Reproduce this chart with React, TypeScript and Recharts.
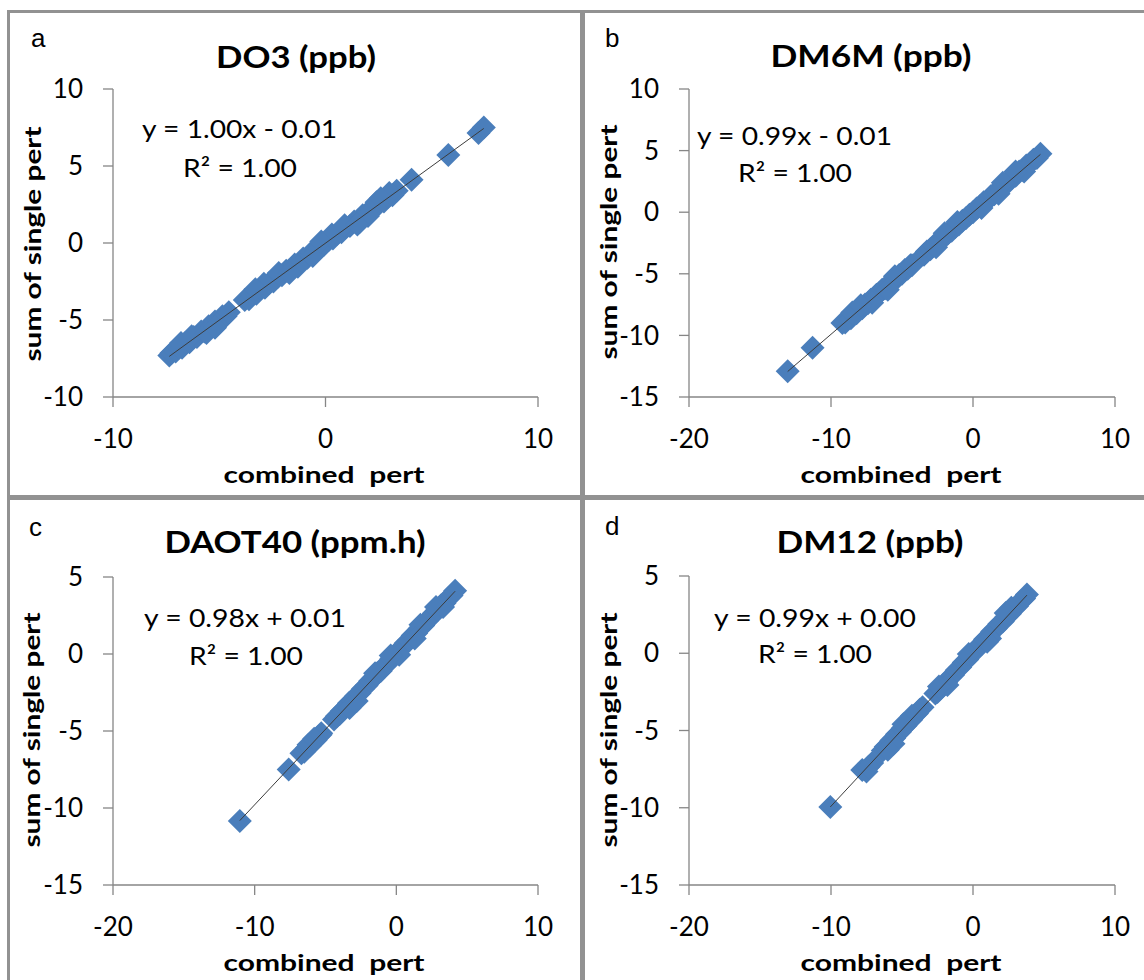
import React from 'react';
import { ScatterChart, Scatter, XAxis, YAxis } from 'recharts';

// panel texts
const LETTERS = ['a', 'b', 'c', 'd'];
const TITLES = ['DO3 (ppb)', 'DM6M (ppb)', 'DAOT40 (ppm.h)', 'DM12 (ppb)'];
const EQUATIONS = ['y = 1.00x - 0.01', 'y = 0.99x - 0.01', 'y = 0.98x + 0.01', 'y = 0.99x + 0.00'];
const R2_LABELS = ['R² = 1.00', 'R² = 1.00', 'R² = 1.00', 'R² = 1.00'];
const SLOPES = [1.0, 0.99, 0.98, 0.99];
const INTERCEPTS = [-0.01, -0.01, 0.01, 0.0];
const X_LABEL = 'combined  pert';
const Y_LABEL = 'sum of single pert';

// axes
const X_TICKS_A = [-10, 0, 10];
const X_TICKS_BCD = [-20, -10, 0, 10];
const Y_TICKS_A = [-10, -5, 0, 5, 10];
const Y_TICKS_B = [-15, -10, -5, 0, 5, 10];
const Y_TICKS_CD = [-15, -10, -5, 0, 5];

// a: DO3
const A_X = [-7.35, -7.25, -7.05, -6.9, -6.75, -6.6, -6.4, -6.2, -6.05, -5.85, -5.7, -5.5, -5.35, -5.2, -5.0, -4.85, -4.7, -4.55,
  -3.8, -3.6, -3.45, -3.25, -3.05, -2.85, -2.65, -2.45, -2.25, -2.05, -1.85, -1.65, -1.45, -1.25, -1.05, -0.85, -0.65, -0.45, -0.25, -0.05,
  0.15, 0.35, 0.55, 0.75, 0.95, 1.15, 1.35, 1.55, 1.75, 1.95, 2.15, 2.35, 2.55, 2.75, 2.95, 3.15, 3.35,
  -2.9, -1.3, 0.3, 1.6, 2.4, -6.3, -5.6, -2.2, -0.6, 0.9, 2.0, 3.0,
  -6.8, -5.2, -3.3, -1.7, -0.2, 1.5, 2.6,
  4.05, 5.78, 7.2, 7.45];
const A_Y = [-7.3, -7.15, -7.05, -6.8, -6.8, -6.5, -6.45, -6.1, -6.1, -5.75, -5.75, -5.4, -5.4, -5.1, -5.05, -4.75, -4.75, -4.5,
  -3.7, -3.65, -3.35, -3.3, -2.95, -2.9, -2.6, -2.5, -2.2, -2.1, -1.8, -1.75, -1.4, -1.35, -1.0, -0.95, -0.6, -0.55, -0.2, -0.1,
  0.2, 0.3, 0.6, 0.7, 1.0, 1.1, 1.4, 1.5, 1.8, 1.9, 2.2, 2.3, 2.6, 2.7, 3.0, 3.1, 3.4,
  -2.65, -1.55, 0.55, 1.35, 2.65, -6.05, -5.85, -1.95, -0.85, 1.15, 1.75, 3.25,
  -6.5, -5.5, -3.0, -1.95, 0.1, 1.2, 2.9,
  4.1, 5.72, 7.15, 7.5];

// b: DM6M
const B_X = [-13.05, -11.3,
  -9.2, -9.0, -8.8, -8.6, -8.4, -8.2, -8.0, -7.8, -7.6, -7.4, -7.2, -7.0, -6.8,
  -6.6, -6.4, -6.2, -6.0, -5.8, -5.6, -5.4, -5.2, -5.0, -4.8, -4.6, -4.4, -4.3,
  -3.45, -3.25, -3.0, -2.75, -2.5, -2.25, -2.0, -1.75, -1.5, -1.25, -1.0, -0.75, -0.5, -0.25, 0.0, 0.25, 0.5,
  0.75, 1.0, 1.25, 1.5, 1.75, 2.0, 2.25, 2.5, 2.75, 3.0, 3.25, 3.5, 3.75, 4.0, 4.25, 4.5, 4.75,
  -8.5, -7.1, -5.5, -2.6, -1.1, 0.6, 2.1, 3.6,
  -7.9, -6.0, -2.0, 1.8, 3.0];
const B_Y = [-12.9, -11.0,
  -9.0, -8.95, -8.65, -8.6, -8.3, -8.2, -7.85, -7.8, -7.5, -7.4, -7.1, -7.0, -6.7,
  -6.55, -6.3, -6.2, -5.9, -5.8, -5.5, -5.4, -5.1, -5.0, -4.7, -4.6, -4.3, -4.3,
  -3.45, -3.2, -3.0, -2.7, -2.5, -2.2, -2.0, -1.7, -1.5, -1.2, -1.0, -0.7, -0.5, -0.2, 0.0, 0.3, 0.5,
  0.8, 0.95, 1.3, 1.45, 1.8, 1.95, 2.3, 2.45, 2.8, 2.95, 3.3, 3.45, 3.8, 3.95, 4.25, 4.4, 4.75,
  -8.15, -7.35, -5.2, -2.85, -0.8, 0.35, 2.4, 3.3,
  -7.55, -6.3, -1.7, 1.5, 3.3];

// c: DAOT40
const C_X = [-11.05, -7.6,
  -6.7, -6.5, -6.3, -6.1, -5.9, -5.7, -5.5, -5.35, -5.3,
  -4.4, -4.2, -4.0, -3.85, -3.6, -3.35, -3.1, -2.85, -2.6, -2.35, -2.1, -1.85, -1.6, -1.35, -1.1, -0.85, -0.6, -0.35,
  -0.1, 0.15, 0.4, 0.65, 0.9, 1.15, 1.4, 1.65, 1.9, 2.15, 2.4, 2.65, 2.9, 3.15, 3.4, 3.65, 3.9, 4.15,
  -6.2, -3.3, -1.5, 0.2, 1.7, 3.3,
  -5.8, -2.8, -0.4, 1.3, 2.8];
const C_Y = [-10.85, -7.5,
  -6.45, -6.35, -6.1, -5.95, -5.75, -5.6, -5.35, -5.25, -5.15,
  -4.25, -4.05, -3.9, -3.7, -3.5, -3.2, -3.05, -2.75, -2.55, -2.25, -2.05, -1.75, -1.55, -1.25, -1.1, -0.8, -0.6, -0.3,
  -0.1, 0.2, 0.4, 0.7, 0.9, 1.2, 1.35, 1.65, 1.85, 2.15, 2.35, 2.65, 2.85, 3.15, 3.3, 3.6, 3.8, 4.1,
  -5.9, -3.5, -1.25, -0.05, 1.9, 3.05,
  -5.5, -3.05, -0.1, 1.0, 3.05];

// d: DM12
const D_X = [-10.05, -7.8, -7.5, -7.1, -7.35,
  -6.35, -6.15, -5.95, -5.75, -5.55, -5.35, -5.15, -4.95, -4.75, -4.55, -4.35, -4.15, -3.95, -3.75, -3.55,
  -2.65, -2.5, -2.3, -2.1, -1.9, -1.65, -1.4, -1.15, -0.9, -0.65, -0.4, -0.15, 0.1, 0.35,
  0.6, 0.85, 1.1, 1.35, 1.6, 1.85, 2.1, 2.35, 2.6, 2.85, 3.1, 3.35, 3.6, 3.8,
  -5.6, -4.3, -1.8, -0.3, 1.2, 2.7,
  -6.0, -4.9, -2.4, 1.0, 2.3];
const D_Y = [-9.95, -7.55, -7.65, -7.1, -7.35,
  -6.3, -6.05, -5.9, -5.65, -5.5, -5.25, -5.1, -4.85, -4.7, -4.45, -4.3, -4.05, -3.9, -3.65, -3.5,
  -2.6, -2.5, -2.3, -2.05, -1.9, -1.6, -1.4, -1.1, -0.9, -0.6, -0.4, -0.1, 0.1, 0.4,
  0.6, 0.9, 1.1, 1.4, 1.6, 1.9, 2.05, 2.35, 2.55, 2.85, 3.05, 3.35, 3.55, 3.8,
  -5.85, -4.05, -2.05, -0.05, 0.95, 2.95,
  -6.25, -4.6, -2.15, 0.75, 2.6];

const SERIES_X = [A_X, B_X, C_X, D_X];
const SERIES_Y = [A_Y, B_Y, C_Y, D_Y];
const X_DOMAINS = [[-10, 10], [-20, 10], [-20, 10], [-20, 10]];
const Y_DOMAINS = [[-10, 10], [-15, 10], [-15, 5], [-15, 5]];
const X_TICKS = [X_TICKS_A, X_TICKS_BCD, X_TICKS_BCD, X_TICKS_BCD];
const Y_TICKS = [Y_TICKS_A, Y_TICKS_B, Y_TICKS_CD, Y_TICKS_CD];

// layout (page coordinates); axis boxes are 1px, so margins are 1px short
const LAYOUT = [
  { left: 0, top: 0, w: 580, h: 490, margin: { top: 89, right: 42, bottom: 92, left: 112 },
    letter: [31, 47], title: [296, 68], eq1: [142, 138], eq2: [183, 177], yl: [41, 244], xl: [324, 483] },
  { left: 580, top: 0, w: 564, h: 490, margin: { top: 89, right: 29, bottom: 92, left: 108 },
    letter: [605, 47], title: [871, 67], eq1: [697, 145], eq2: [738, 182], yl: [617, 242], xl: [901, 483] },
  { left: 0, top: 490, w: 580, h: 490, margin: { top: 87, right: 42, bottom: 94, left: 112 },
    letter: [29, 536], title: [295, 553], eq1: [144, 627], eq2: [189, 665], yl: [40, 730], xl: [324, 971] },
  { left: 580, top: 490, w: 564, h: 490, margin: { top: 86, right: 29, bottom: 94, left: 108 },
    letter: [605, 535], title: [870, 553], eq1: [714, 627], eq2: [758, 663], yl: [617, 730], xl: [901, 971] },
];
const TITLE_W = [160, 201, 261, 187];
const EQ1_W = [195, 195, 202, 202];

const BLUE = '#4a7ebb';
const AXIS = '#868686';
const BORDER = '#929292';
const FONT = 'Lato, "Open Sans", sans-serif';

const Diamond = (props: any) => {
  const { cx, cy } = props;
  if (cx == null || cy == null) return <g />;
  const r = 12;
  return <polygon points={`${cx},${cy - r} ${cx + r},${cy} ${cx},${cy + r} ${cx - r},${cy}`} fill={BLUE} />;
};

const Nothing = () => <g />;

function Panel({ i }: { i: number }) {
  const L = LAYOUT[i];
  const xs = SERIES_X[i];
  const ys = SERIES_Y[i];
  const n = Math.min(xs.length, ys.length);
  const points = Array.from({ length: n }, (_, k) => ({ x: xs[k], y: ys[k] }));
  const minX = Math.min(...xs);
  const maxX = Math.max(...xs);
  const trend = [minX, maxX].map((x) => ({ x, y: SLOPES[i] * x + INTERCEPTS[i] }));
  const tickStyle = { fontSize: 26, fill: '#000', fontFamily: FONT };

  return (
    <div style={{ position: 'absolute', left: L.left, top: L.top }}>
      <ScatterChart width={L.w} height={L.h} margin={L.margin}>
        <XAxis
          type="number"
          dataKey="x"
          domain={X_DOMAINS[i]}
          ticks={X_TICKS[i]}
          interval={0}
          height={1}
          tickSize={10}
          tickMargin={23}
          axisLine={{ stroke: AXIS, strokeWidth: 1.3 }}
          tickLine={{ stroke: AXIS, strokeWidth: 1.3 }}
          tick={tickStyle}
        />
        <YAxis
          type="number"
          dataKey="y"
          domain={Y_DOMAINS[i]}
          ticks={Y_TICKS[i]}
          interval={0}
          width={1}
          tickSize={10}
          tickMargin={20}
          axisLine={{ stroke: AXIS, strokeWidth: 1.3 }}
          tickLine={{ stroke: AXIS, strokeWidth: 1.3 }}
          tick={tickStyle}
        />
        <Scatter data={points} shape={Diamond} isAnimationActive={false} />
        <Scatter
          data={trend}
          shape={Nothing}
          line={{ stroke: '#3c3c3c', strokeWidth: 1 }}
          isAnimationActive={false}
        />
      </ScatterChart>
    </div>
  );
}

function Texts() {
  return (
    <svg width={1144} height={980} style={{ position: 'absolute', left: 0, top: 0, pointerEvents: 'none' }}>
      {LAYOUT.map((L, i) => (
        <g key={i} fill="#000">
          <text x={L.letter[0]} y={L.letter[1]} fontFamily='"Liberation Sans", Arial, sans-serif' fontSize={26}>
            {LETTERS[i]}
          </text>
          <text x={L.title[0]} y={L.title[1]} fontFamily={FONT} fontWeight="bold" fontSize={30}
            textAnchor="middle" textLength={TITLE_W[i]} lengthAdjust="spacingAndGlyphs">
            {TITLES[i]}
          </text>
          <text x={L.eq1[0]} y={L.eq1[1]} fontFamily={FONT} fontSize={25}
            textLength={EQ1_W[i]} lengthAdjust="spacingAndGlyphs">
            {EQUATIONS[i]}
          </text>
          <text x={L.eq2[0]} y={L.eq2[1]} fontFamily={FONT} fontSize={25}
            textLength={114} lengthAdjust="spacingAndGlyphs">
            {R2_LABELS[i]}
          </text>
          <text x={L.xl[0]} y={L.xl[1]} fontFamily={FONT} fontWeight="bold" fontSize={23}
            textAnchor="middle" textLength={201} lengthAdjust="spacingAndGlyphs" style={{ whiteSpace: 'pre' }}>
            {X_LABEL}
          </text>
          <text transform={`translate(${L.yl[0]},${L.yl[1]}) rotate(-90)`} x={0} y={0} fontFamily={FONT}
            fontWeight="bold" fontSize={22} textAnchor="middle" textLength={235} lengthAdjust="spacingAndGlyphs">
            {Y_LABEL}
          </text>
        </g>
      ))}
    </svg>
  );
}

function Frame() {
  const line = (s: React.CSSProperties) => <div style={{ position: 'absolute', background: BORDER, ...s }} />;
  return (
    <>
      {line({ left: 8, top: 10, width: 1136, height: 3 })}
      {line({ left: 7, top: 10, width: 3, height: 970 })}
      {line({ left: 580, top: 10, width: 5, height: 970 })}
      {line({ left: 8, top: 495, width: 1136, height: 5 })}
    </>
  );
}

export default function App() {
  return (
    <div style={{ position: 'absolute', left: 0, top: 0, width: 1144, height: 980, background: '#fff', overflow: 'hidden' }}>
      <Frame />
      {[0, 1, 2, 3].map((i) => (
        <Panel key={i} i={i} />
      ))}
      <Texts />
    </div>
  );
}
